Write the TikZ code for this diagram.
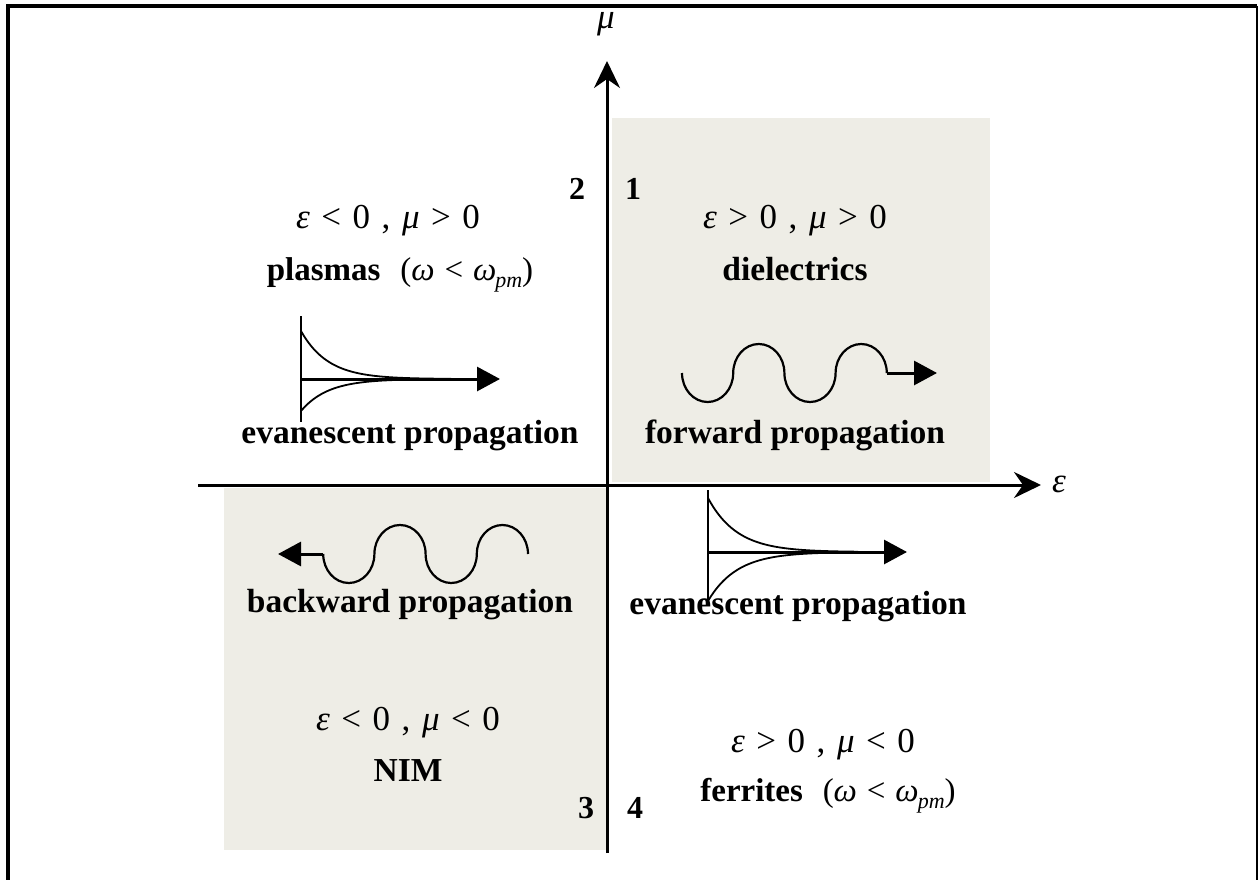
\documentclass[tikz,border=0pt]{standalone}
\usepackage{fontspec}
\setmainfont{Liberation Serif}
\usetikzlibrary{arrows.meta}
\definecolor{shadegray}{RGB}{238,237,230}
\newcommand{\gs}{\hspace{0.33em}}
\begin{document}
\begin{tikzpicture}[x=1pt,y=-1pt,
  axisline/.style={line width=3pt, -{Stealth[length=27pt,width=26pt,inset=9pt]}},
  wave/.style={line width=2.2pt},
  tiparrow/.style={line width=3pt, -{Triangle[length=23pt,width=24pt]}},
  decay/.style={line width=1.8pt},
  stem/.style={line width=2.6pt},
  lbl/.style={font=\fontsize{33}{36}\selectfont, inner sep=0pt, anchor=base},
  cond/.style={font=\fontsize{35}{38}\selectfont, inner sep=0pt, anchor=base},
  blbl/.style={font=\bfseries\fontsize{33.5}{36}\selectfont, inner sep=0pt, anchor=base},
  num/.style={font=\bfseries\fontsize{32}{34}\selectfont, inner sep=0pt, anchor=base}]
\useasboundingbox (0,0) rectangle (1259,880);
\fill[white] (0,0) rectangle (1259,880);
% frame
\draw[line width=4pt] (8,880) -- (8,6) -- (1257,6);
\draw[line width=2pt] (1257,6) -- (1257,880);
% shaded quadrants
\fill[shadegray] (612,118) rectangle (990,482);
\fill[shadegray] (224,488) rectangle (606,850);
% axes
\coordinate (ybot) at (607,853);
\coordinate (ytop) at (607,61);
\coordinate (xleft) at (198,485);
\coordinate (xright) at (1041,485);
\draw[axisline] (ybot) -- (ytop);
\draw[axisline] (xleft) -- (xright);
\node[font=\itshape\fontsize{35}{38}\selectfont, inner sep=0pt] (mulabel) at (606,24) {μ};
\node[font=\itshape\fontsize{35}{38}\selectfont, inner sep=0pt] (epslabel) at (1059,484) {ε};
% quadrant numbers
\node[num] (n2) at (577,200) {2};
\node[num] (n1) at (633,200) {1};
\node[num] (n3) at (586,818) {3};
\node[num] (n4) at (635,818) {4};
% quadrant 2
\node[cond] (q2cond) at (388,228) {\textit{ε}\gs<\gs0\gs,\gs\textit{μ}\gs>\gs0};
\node[lbl] (q2name) at (400,280) {\textbf{plasmas}\hspace{0.6em}(\textit{ω}\hspace{0.3em}<\hspace{0.3em}\textit{ω}\kern-1pt\raisebox{-0.22em}{\fontsize{22}{23}\selectfont\textit{pm}})};
\draw[stem] (301,316) -- (301,422);
\draw[tiparrow] (301,379) -- (500,379);
\draw[decay] plot[domain=0:150,samples=60] ({301+\x},{379-48*exp(-\x/27)});
\draw[decay] plot[domain=0:150,samples=60] ({301+\x},{379+32*exp(-\x/27)});
\node[blbl] (q2prop) at (410,443) {evanescent propagation};
% quadrant 1
\node[cond] (q1cond) at (795,228) {\textit{ε}\gs>\gs0\gs,\gs\textit{μ}\gs>\gs0};
\node[blbl] (q1name) at (795,280) {dielectrics};
\draw[wave] (682,373)
  arc[start angle=180,end angle=0,x radius=25.6,y radius=29]
  arc[start angle=180,end angle=360,x radius=25.6,y radius=29]
  arc[start angle=180,end angle=0,x radius=25.6,y radius=29]
  arc[start angle=180,end angle=360,x radius=25.6,y radius=29] coordinate (fwend);
\draw[tiparrow] (fwend) -- (937,373);
\node[blbl] (q1prop) at (795,443) {forward propagation};
% quadrant 3
\draw[wave] (528,554)
  arc[start angle=0,end angle=-180,x radius=25.6,y radius=29]
  arc[start angle=0,end angle=180,x radius=25.6,y radius=29]
  arc[start angle=0,end angle=-180,x radius=25.6,y radius=29]
  arc[start angle=0,end angle=180,x radius=25.6,y radius=29] coordinate (bwend);
\draw[tiparrow] (bwend) -- (278,554);
\node[blbl] (q3prop) at (410,612) {backward propagation};
\node[cond] (q3cond) at (408,730) {\textit{ε}\gs<\gs0\gs,\gs\textit{μ}\gs<\gs0};
\node[blbl] (q3name) at (408,781) {NIM};
% quadrant 4
\draw[stem] (708,490) -- (708,605);
\draw[tiparrow] (708,552) -- (907,552);
\draw[decay] plot[domain=0:150,samples=60] ({708+\x},{552-54*exp(-\x/29)});
\draw[decay] plot[domain=0:150,samples=60] ({708+\x},{552+49*exp(-\x/29)});
\node[blbl] (q4prop) at (798,614) {evanescent propagation};
\node[cond] (q4cond) at (823,752) {\textit{ε}\gs>\gs0\gs,\gs\textit{μ}\gs<\gs0};
\node[lbl] (q4name) at (828,801) {\textbf{ferrites}\hspace{0.6em}(\textit{ω}\hspace{0.3em}<\hspace{0.3em}\textit{ω}\kern-1pt\raisebox{-0.22em}{\fontsize{22}{23}\selectfont\textit{pm}})};
\end{tikzpicture}
\end{document}
